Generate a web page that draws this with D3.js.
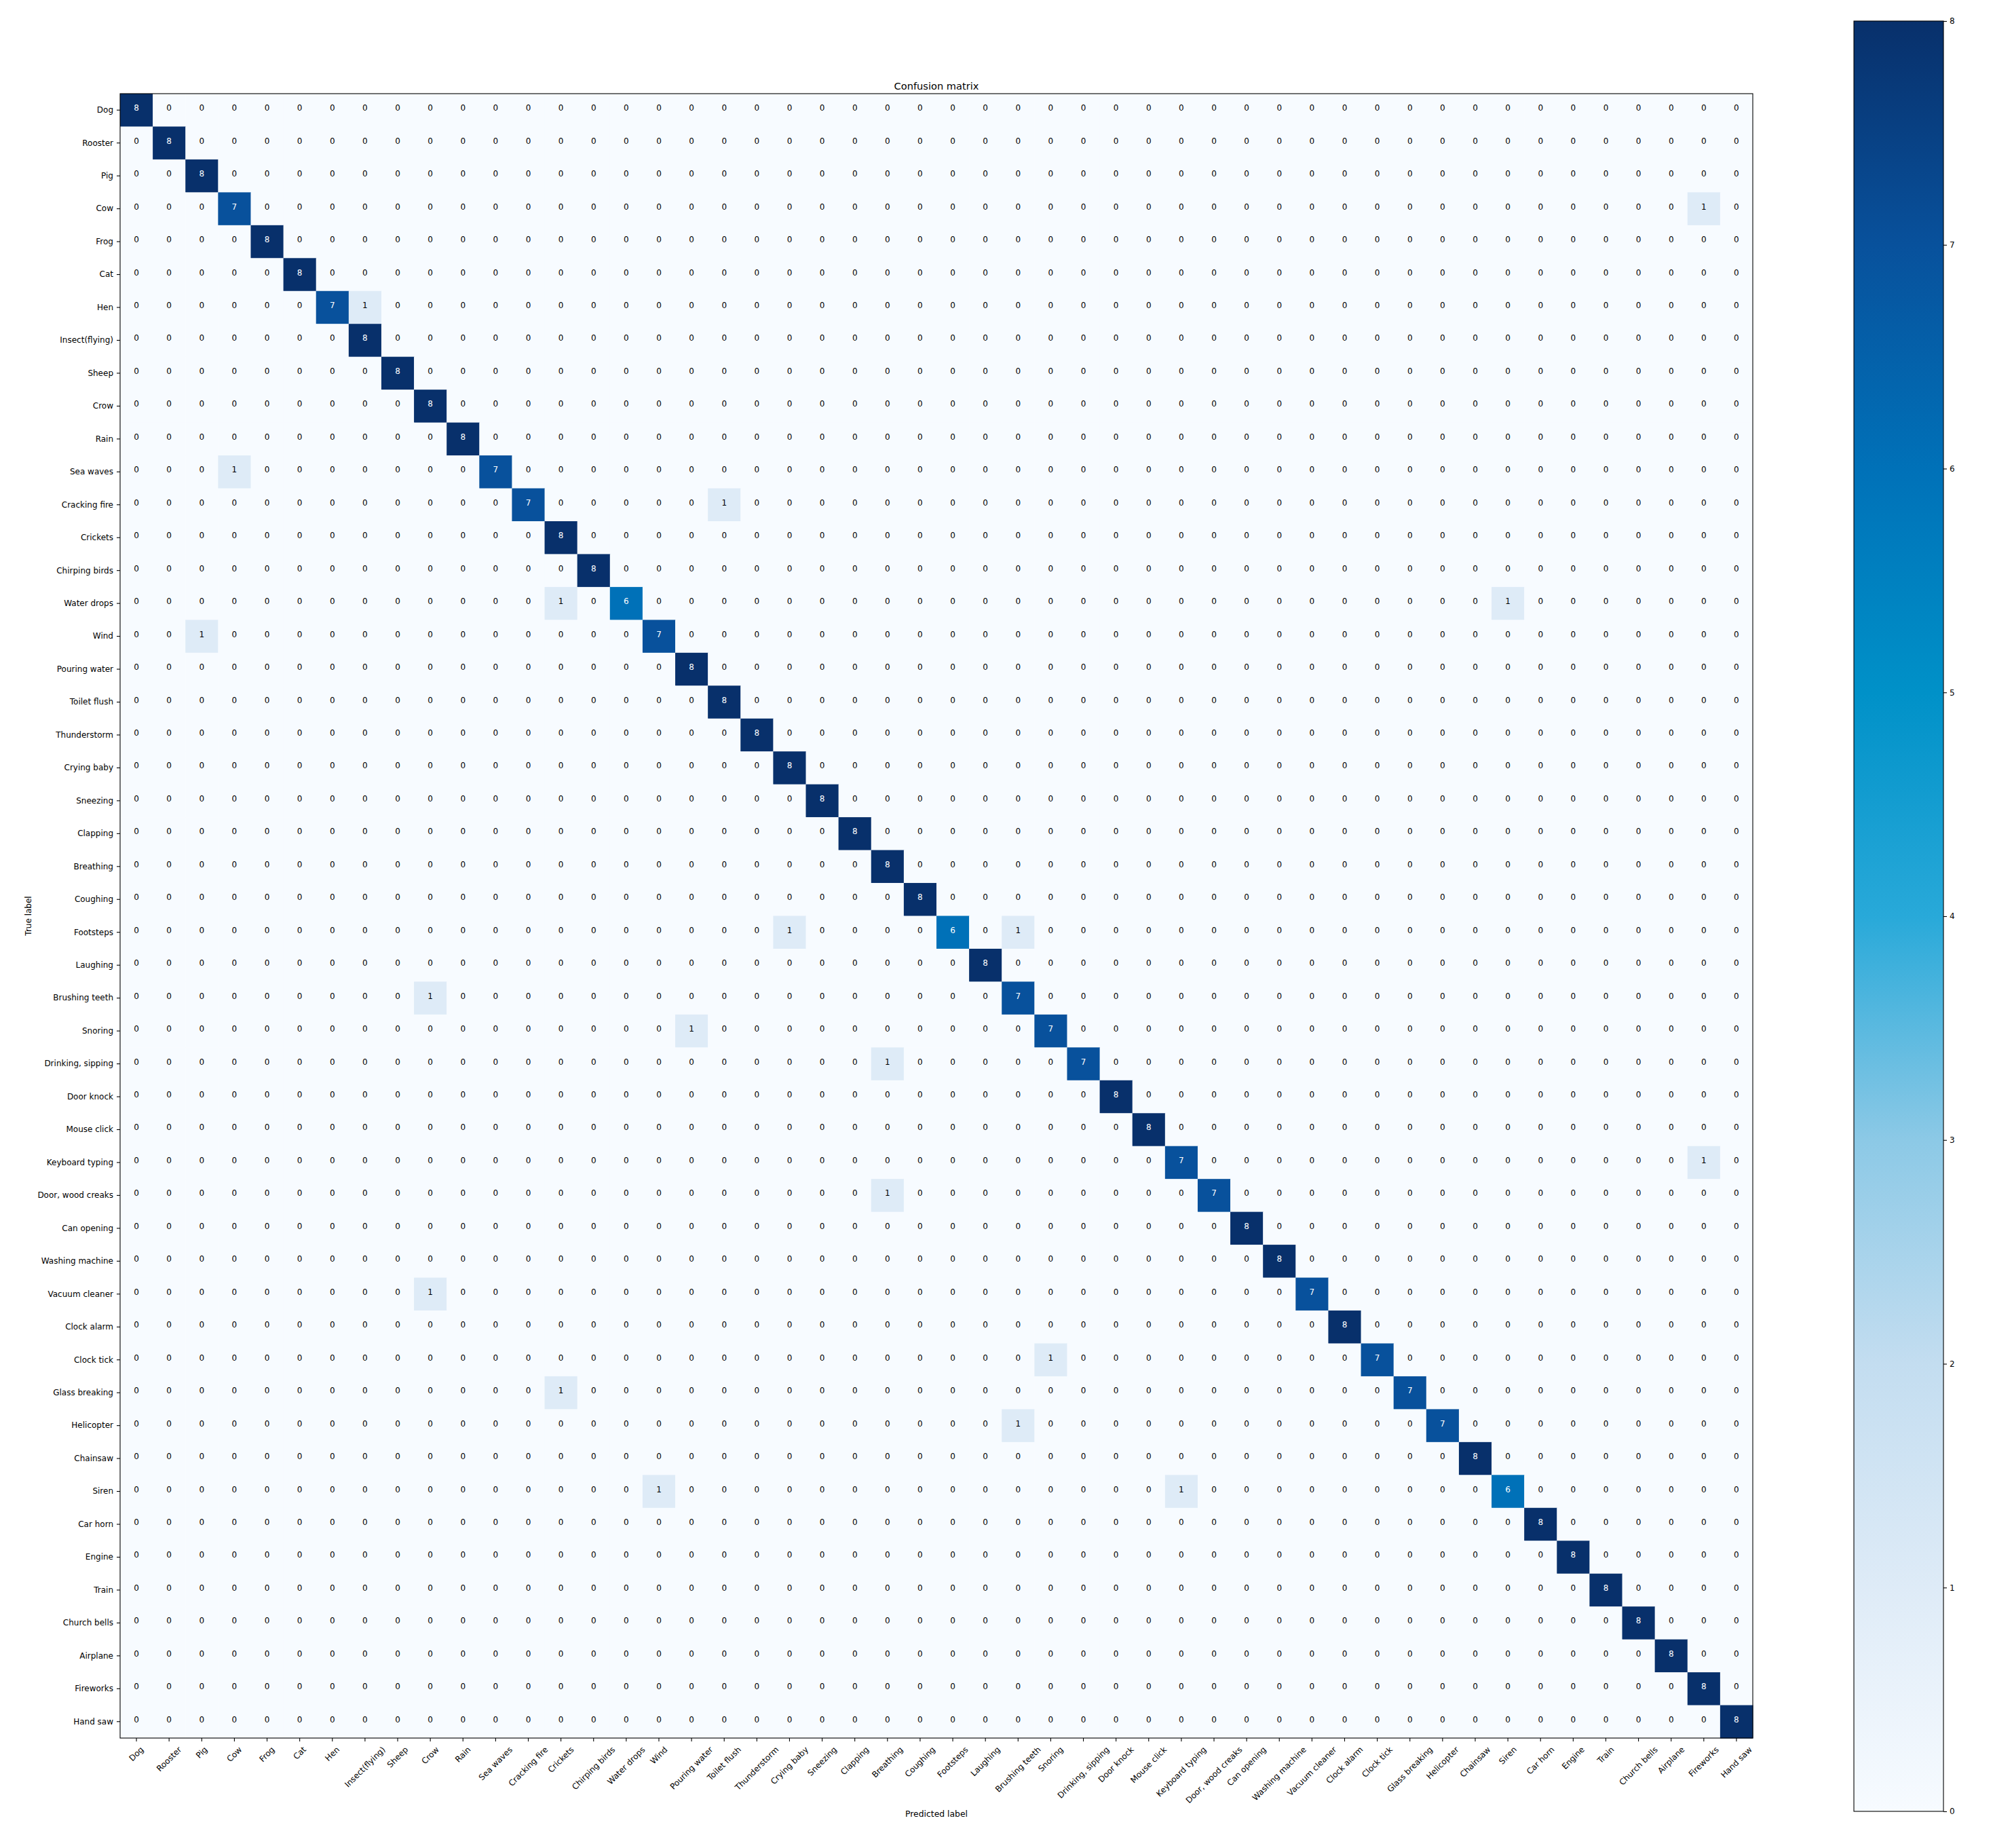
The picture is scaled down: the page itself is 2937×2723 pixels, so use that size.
<!DOCTYPE html>
<html>
<head>
<meta charset="utf-8">
<script src="https://cdn.jsdelivr.net/npm/d3@7"></script>
<style>
    body { margin: 0; background: #fff; }
    text { font-family: "DejaVu Sans", sans-serif; fill: #000; }
    .axis path { display: none; }
    .axis line { stroke: #000; stroke-width: 1.1; }
</style>
</head>
<body>
<svg id="chart" width="2937" height="2723"></svg>
<script>
// Class names (same order on both axes)
const classes = [
    "Dog", "Rooster", "Pig", "Cow", "Frog", "Cat", "Hen", "Insect(flying)", "Sheep", "Crow",
    "Rain", "Sea waves", "Cracking fire", "Crickets", "Chirping birds", "Water drops", "Wind", "Pouring water", "Toilet flush", "Thunderstorm",
    "Crying baby", "Sneezing", "Clapping", "Breathing", "Coughing", "Footsteps", "Laughing", "Brushing teeth", "Snoring", "Drinking, sipping",
    "Door knock", "Mouse click", "Keyboard typing", "Door, wood creaks", "Can opening", "Washing machine", "Vacuum cleaner", "Clock alarm", "Clock tick", "Glass breaking",
    "Helicopter", "Chainsaw", "Siren", "Car horn", "Engine", "Train", "Church bells", "Airplane", "Fireworks", "Hand saw"
];

// One string per true class, one digit per predicted class (grouped by 10)
const counts = [
    "8000000000 0000000000 0000000000 0000000000 0000000000",
    "0800000000 0000000000 0000000000 0000000000 0000000000",
    "0080000000 0000000000 0000000000 0000000000 0000000000",
    "0007000000 0000000000 0000000000 0000000000 0000000010",
    "0000800000 0000000000 0000000000 0000000000 0000000000",
    "0000080000 0000000000 0000000000 0000000000 0000000000",
    "0000007100 0000000000 0000000000 0000000000 0000000000",
    "0000000800 0000000000 0000000000 0000000000 0000000000",
    "0000000080 0000000000 0000000000 0000000000 0000000000",
    "0000000008 0000000000 0000000000 0000000000 0000000000",
    "0000000000 8000000000 0000000000 0000000000 0000000000",
    "0001000000 0700000000 0000000000 0000000000 0000000000",
    "0000000000 0070000010 0000000000 0000000000 0000000000",
    "0000000000 0008000000 0000000000 0000000000 0000000000",
    "0000000000 0000800000 0000000000 0000000000 0000000000",
    "0000000000 0001060000 0000000000 0000000000 0010000000",
    "0010000000 0000007000 0000000000 0000000000 0000000000",
    "0000000000 0000000800 0000000000 0000000000 0000000000",
    "0000000000 0000000080 0000000000 0000000000 0000000000",
    "0000000000 0000000008 0000000000 0000000000 0000000000",
    "0000000000 0000000000 8000000000 0000000000 0000000000",
    "0000000000 0000000000 0800000000 0000000000 0000000000",
    "0000000000 0000000000 0080000000 0000000000 0000000000",
    "0000000000 0000000000 0008000000 0000000000 0000000000",
    "0000000000 0000000000 0000800000 0000000000 0000000000",
    "0000000000 0000000000 1000060100 0000000000 0000000000",
    "0000000000 0000000000 0000008000 0000000000 0000000000",
    "0000000001 0000000000 0000000700 0000000000 0000000000",
    "0000000000 0000000100 0000000070 0000000000 0000000000",
    "0000000000 0000000000 0001000007 0000000000 0000000000",
    "0000000000 0000000000 0000000000 8000000000 0000000000",
    "0000000000 0000000000 0000000000 0800000000 0000000000",
    "0000000000 0000000000 0000000000 0070000000 0000000010",
    "0000000000 0000000000 0001000000 0007000000 0000000000",
    "0000000000 0000000000 0000000000 0000800000 0000000000",
    "0000000000 0000000000 0000000000 0000080000 0000000000",
    "0000000001 0000000000 0000000000 0000007000 0000000000",
    "0000000000 0000000000 0000000000 0000000800 0000000000",
    "0000000000 0000000000 0000000010 0000000070 0000000000",
    "0000000000 0001000000 0000000000 0000000007 0000000000",
    "0000000000 0000000000 0000000100 0000000000 7000000000",
    "0000000000 0000000000 0000000000 0000000000 0800000000",
    "0000000000 0000001000 0000000000 0010000000 0060000000",
    "0000000000 0000000000 0000000000 0000000000 0008000000",
    "0000000000 0000000000 0000000000 0000000000 0000800000",
    "0000000000 0000000000 0000000000 0000000000 0000080000",
    "0000000000 0000000000 0000000000 0000000000 0000008000",
    "0000000000 0000000000 0000000000 0000000000 0000000800",
    "0000000000 0000000000 0000000000 0000000000 0000000080",
    "0000000000 0000000000 0000000000 0000000000 0000000008"
];

// Blues-like stops, as they appear in the picture (mid tones more vivid)
const blues = ["#f7fbff", "#deebf7", "#c3ddf0", "#8cc9e6", "#28a9d9", "#0091c8", "#0071b8", "#08519c", "#08306b"];
const colorbarTicks = [0, 1, 2, 3, 4, 5, 6, 7, 8];

const svg = d3.select("#chart");

const plot = {left: 177, top: 138, right: 2583, bottom: 2561};
const cbar = {left: 2732, right: 2864, top: 31, bottom: 2669};

const matrix = counts.map(r => r.replace(/ /g, "").split("").map(Number));
const vmax = d3.max(matrix.flat());
const thresh = vmax / 2;

const x = d3.scaleBand().domain(classes).range([plot.left, plot.right]);
const y = d3.scaleBand().domain(classes).range([plot.top, plot.bottom]);
const color = d3.scaleLinear()
    .domain(blues.map((c, i) => i * vmax / (blues.length - 1)))
    .range(blues);

let cells = [];
matrix.forEach((row, i) => row.forEach((v, j) => {
    cells.push({truth: classes[i], pred: classes[j], value: v});
}));

// Heatmap cells
svg.append("g").selectAll("rect")
    .data(cells)
    .enter()
    .append("rect")
    .attr("x", d => x(d.pred))
    .attr("y", d => y(d.truth))
    .attr("width", x.bandwidth() + 0.5)
    .attr("height", y.bandwidth() + 0.5)
    .attr("fill", d => color(d.value));

// Cell counts, baseline on the cell centre like matplotlib's default
svg.append("g").selectAll("text")
    .data(cells)
    .enter()
    .append("text")
    .attr("x", d => x(d.pred) + x.bandwidth() / 2)
    .attr("y", d => y(d.truth) + y.bandwidth() / 2 + 1)
    .attr("text-anchor", "middle")
    .style("font-size", "12px")
    .style("fill", d => d.value > thresh ? "#fff" : "#000")
    .text(d => d.value);

// Frame
svg.append("rect")
    .attr("x", plot.left).attr("y", plot.top)
    .attr("width", plot.right - plot.left).attr("height", plot.bottom - plot.top)
    .attr("fill", "none").attr("stroke", "#000").attr("stroke-width", 1.1);

// Y axis
let yAxis = svg.append("g")
    .attr("class", "axis")
    .attr("transform", `translate(${plot.left},0)`)
    .call(d3.axisLeft(y).tickSize(5).tickPadding(5));
yAxis.selectAll("text").style("font-size", "12px");

// X axis, labels rotated 45 deg and centred under the tick (bbox)
let xAxis = svg.append("g")
    .attr("class", "axis")
    .attr("transform", `translate(0,${plot.bottom})`)
    .call(d3.axisBottom(x).tickSize(5).tickPadding(5));
xAxis.selectAll("text")
    .style("font-size", "12px")
    .attr("text-anchor", "middle")
    .attr("dy", null)
    .attr("dominant-baseline", "central")
    .each(function () {
        let w = this.getComputedTextLength();
        let h = 12 * 1.16;
        let boxH = (w + h) / Math.SQRT2;
        d3.select(this)
            .attr("y", null)
            .attr("transform", `translate(0,${10 + boxH / 2}) rotate(-45)`);
    });

// Title and axis labels
svg.append("text")
    .attr("x", (plot.left + plot.right) / 2).attr("y", 132)
    .attr("text-anchor", "middle")
    .style("font-size", "14.6px")
    .text("Confusion matrix");

svg.append("text")
    .attr("x", (plot.left + plot.right) / 2).attr("y", 2677)
    .attr("text-anchor", "middle")
    .style("font-size", "12.4px")
    .text("Predicted label");

svg.append("text")
    .attr("transform", `translate(46,${(plot.top + plot.bottom) / 2}) rotate(-90)`)
    .attr("text-anchor", "middle")
    .style("font-size", "12px")
    .text("True label");

// Colorbar
let grad = svg.append("defs").append("linearGradient")
    .attr("id", "blues")
    .attr("x1", 0).attr("y1", 1).attr("x2", 0).attr("y2", 0);
grad.selectAll("stop")
    .data(blues)
    .enter()
    .append("stop")
    .attr("offset", (d, i) => i / (blues.length - 1))
    .attr("stop-color", d => d);

svg.append("rect")
    .attr("x", cbar.left).attr("y", cbar.top)
    .attr("width", cbar.right - cbar.left).attr("height", cbar.bottom - cbar.top)
    .attr("fill", "url(#blues)")
    .attr("stroke", "#000").attr("stroke-width", 1.1);

const cScale = d3.scaleLinear().domain([0, vmax]).range([cbar.bottom, cbar.top]);
let cAxis = svg.append("g")
    .attr("class", "axis")
    .attr("transform", `translate(${cbar.right},0)`)
    .call(d3.axisRight(cScale).tickValues(colorbarTicks).tickFormat(d3.format("d")).tickSize(5).tickPadding(4));
cAxis.selectAll("text").style("font-size", "12px");
</script>
</body>
</html>
